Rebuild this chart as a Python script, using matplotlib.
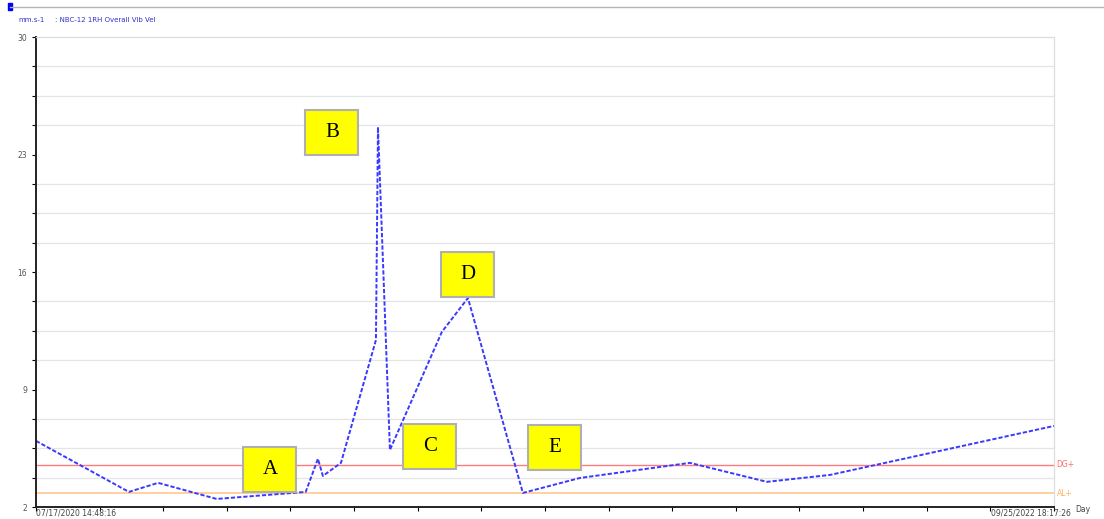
import numpy as np
import matplotlib.pyplot as plt
from matplotlib.patches import Rectangle
from datetime import datetime

start = "07/17/2020 14:48:16"
end = "09/25/2022 18:17:26"
fmt = "%m/%d/%Y %H:%M:%S"
span = (datetime.strptime(end, fmt) - datetime.strptime(start, fmt)).total_seconds() / 86400

# days since first reading, overall velocity in mm/s
days = [0, 73, 96, 142, 212, 221.6, 225.5, 239.7, 267.2, 268.8, 278.2, 319, 339.5,
        382.7, 427.5, 514, 574.5, 624, span]
vel = [5.94, 2.9, 3.44, 2.48, 2.9, 4.87, 3.85, 4.63, 11.95, 24.64, 5.4, 12.43, 14.45,
       2.84, 3.73, 4.63, 3.5, 3.91, 6.83]

dg_level = 4.51
al_level = 2.82

labels = ["A", "B", "C", "D", "E"]
label_x = [183.9, 232.6, 309.6, 339.5, 407.9]
label_y = [4.21, 24.34, 5.58, 15.88, 5.52]

fig = plt.figure(figsize=(11.04, 5.19), dpi=100)
ax = fig.add_axes([0.0326, 0.0231, 0.9221, 0.9056])

ax.set_xlim(0, span)
ax.set_ylim(2, 30)

ax.set_yticks([2, 9, 16, 23, 30])
ax.set_yticks(np.arange(2, 30.01, 1.75), minor=True)
ax.set_xticks(np.linspace(0, span, 17))
ax.set_xticks(np.linspace(0, span, 5), minor=True)
ax.set_xticklabels([])
ax.tick_params(axis="y", which="major", labelsize=5.5, labelcolor="#555555", length=3, width=0.8)
ax.tick_params(axis="y", which="minor", length=3, width=0.8)
ax.tick_params(axis="x", which="major", length=3, width=0.8)
ax.tick_params(axis="x", which="minor", length=0)

ax.grid(True, axis="y", which="minor", color="#e4e4e4", lw=0.9)
ax.grid(True, axis="x", which="minor", color="#e4e4e4", lw=0.9)
ax.set_axisbelow(True)

for s in ["left", "bottom"]:
    ax.spines[s].set_linewidth(1.4)
    ax.spines[s].set_color("#222222")
for s in ["top", "right"]:
    ax.spines[s].set_color("#dddddd")
    ax.spines[s].set_linewidth(0.9)

ax.axhline(dg_level, color="#ff7b7b", lw=1.0)
ax.axhline(al_level, color="#ffcf9f", lw=1.4)
ax.text(span + 2, dg_level, "DG+", color="#ff6b6b", fontsize=5.5, va="center", clip_on=False)
ax.text(span + 2, al_level, "AL+", color="#ffb060", fontsize=5.5, va="center", clip_on=False)

ax.plot(days, vel, color="#3a3aff", lw=1.4, ls=(0, (2.2, 1.0)))

# yellow callout boxes
bw = 53 / (1018 / span)
bh = 45 / (470 / 28)
for lab, x, y in zip(labels, label_x, label_y):
    ax.add_patch(Rectangle((x - bw / 2, y - bh / 2), bw, bh, facecolor="#ffff00",
                           edgecolor="#b0b0b0", lw=1.5, zorder=5))
    ax.text(x, y, lab, family="Liberation Serif", fontsize=15, ha="center", va="center", zorder=6)

fig.text(36 / 1104, 1 - 517 / 519, start, fontsize=5.5, color="#444444", ha="left", va="bottom")
fig.text(1071 / 1104, 1 - 517 / 519, end, fontsize=5.5, color="#444444", ha="right", va="bottom")
fig.text(1075 / 1104, 1 - 510 / 519, "Day", fontsize=5.5, color="#444444", ha="left", va="center")

# header strip
fig.add_artist(plt.Line2D([10 / 1104, 1], [1 - 7 / 519] * 2, color="#b5b5b5", lw=1.0))
fig.add_artist(Rectangle((8 / 1104, 1 - 10 / 519), 4 / 1104, 7 / 519, color="#0000ff"))
fig.text(18 / 1104, 1 - 20 / 519, "mm.s-1", fontsize=5, color="#3333cc", va="center")
fig.text(55 / 1104, 1 - 20 / 519, ": NBC-12 1RH Overall Vib Vel", fontsize=5, color="#3333cc", va="center")

fig.savefig("out.png", dpi=100)
